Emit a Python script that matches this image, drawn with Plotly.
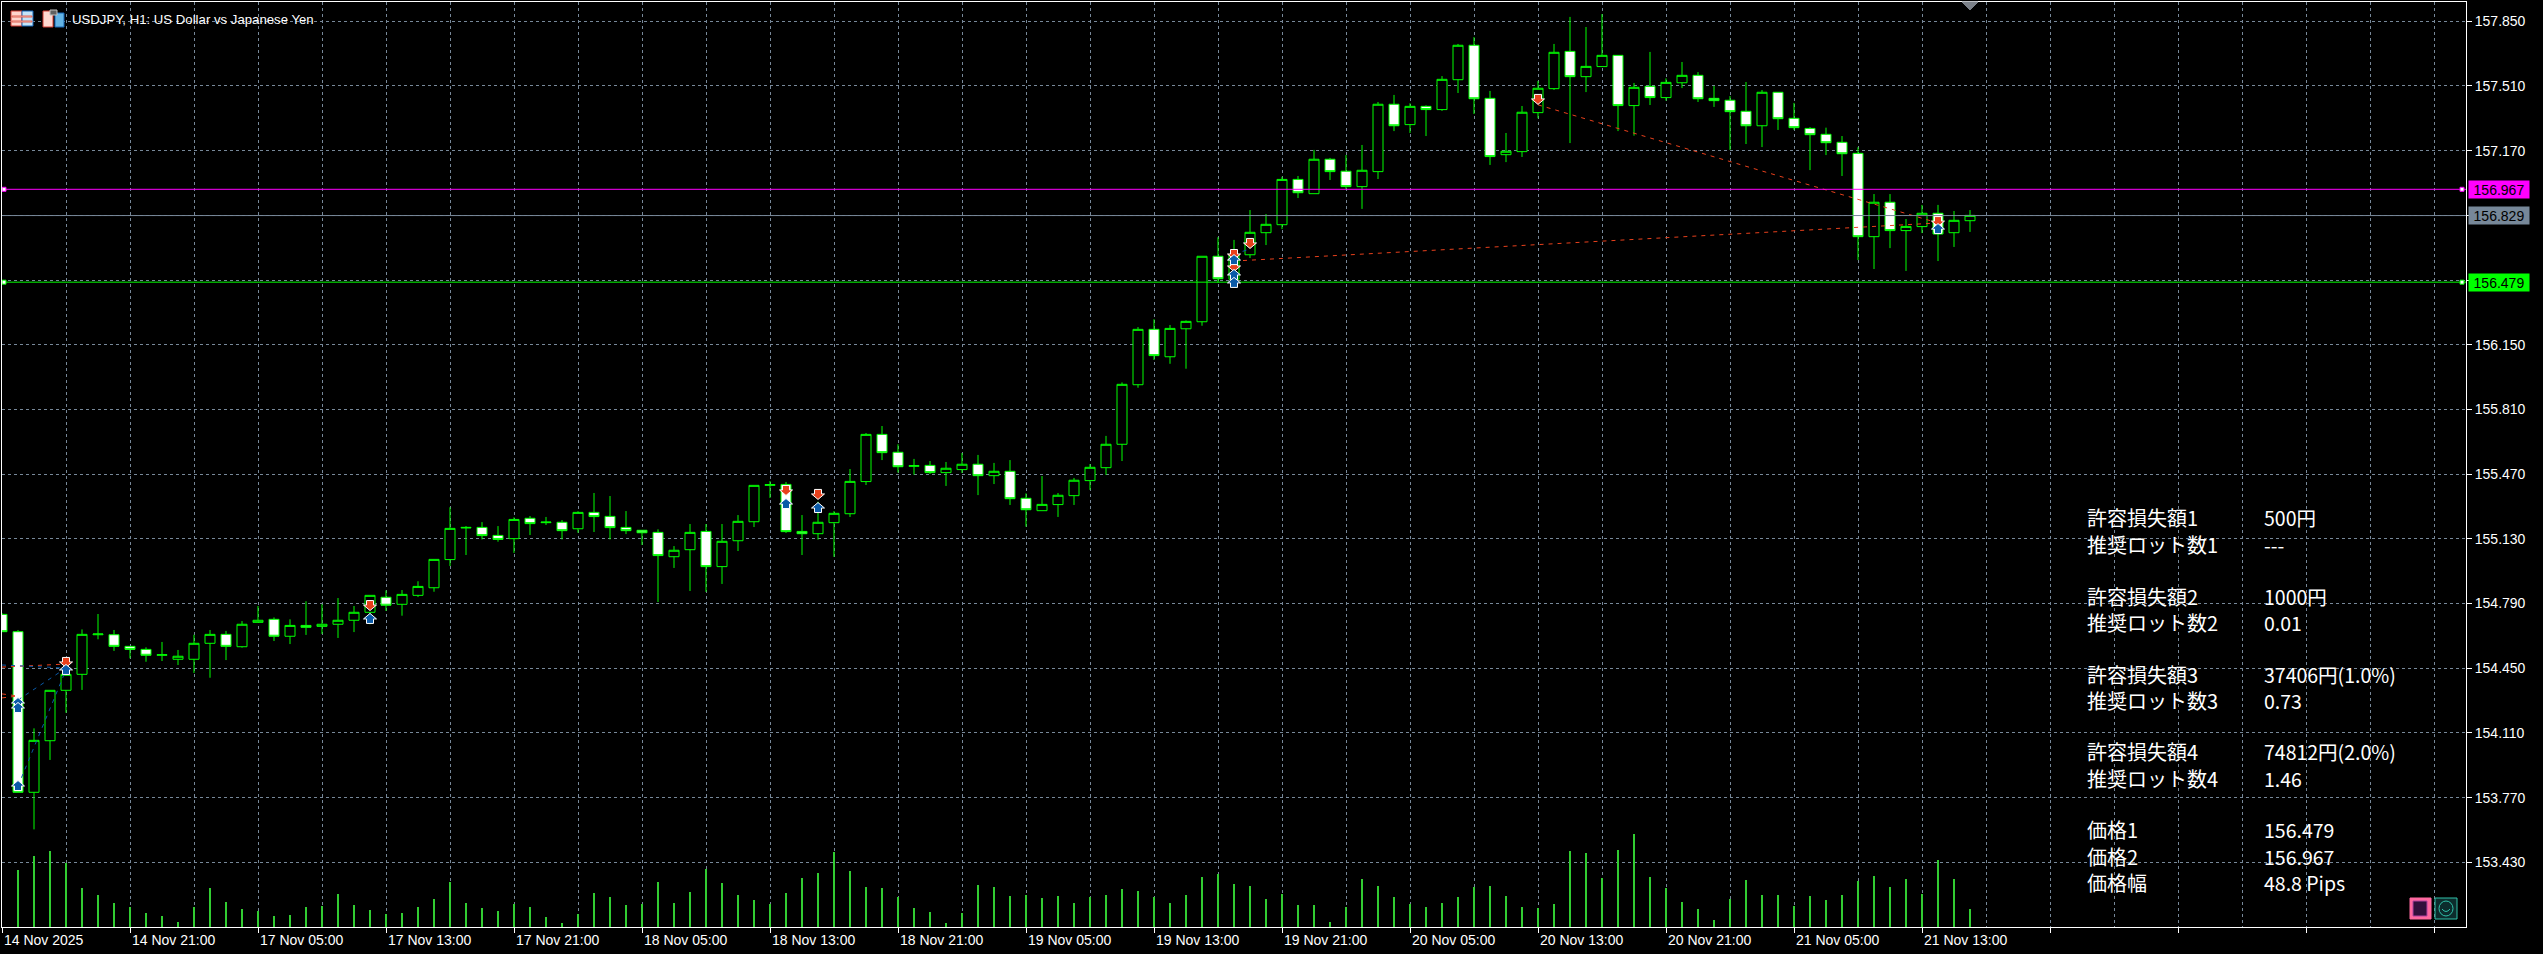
import plotly.graph_objects as go

# USDJPY H1 candles, one row per bar (bar index = hours of trading since 14 Nov 13:00)
open_ = [154.733,154.642,153.798,154.069,154.334,154.418,154.626,154.626,154.565,154.549,154.518,154.497,154.497,154.581,154.628,154.563,154.691,154.707,154.618,154.675,
         154.670,154.681,154.702,154.744,154.823,154.786,154.833,154.873,155.021,155.187,155.190,155.148,155.131,155.238,155.215,155.217,155.183,155.269,155.248,155.190,
         155.175,155.164,155.036,155.073,155.169,154.984,155.120,155.220,155.411,155.416,155.169,155.157,155.215,155.262,155.431,155.679,155.585,155.511,155.516,155.478,
         155.494,155.522,155.462,155.485,155.343,155.278,155.310,155.357,155.436,155.504,155.627,155.940,156.231,156.087,156.234,156.271,156.615,156.494,156.623,156.739,
         156.781,157.019,156.944,157.125,157.062,156.981,157.060,157.414,157.307,157.403,157.386,157.543,157.724,157.445,157.149,157.165,157.370,157.496,157.692,157.559,
         157.612,157.671,157.407,157.508,157.449,157.527,157.566,157.445,157.435,157.377,157.301,157.477,157.340,157.287,157.256,157.214,157.156,156.718,156.899,156.750,
         156.771,156.841,156.739,156.802]
high = [154.740,154.651,154.134,154.334,154.458,154.654,154.735,154.651,154.565,154.560,154.588,154.546,154.626,154.651,154.646,154.698,154.777,154.717,154.707,154.802,
        154.786,154.819,154.777,154.833,154.859,154.861,154.907,155.022,155.296,155.197,155.218,155.197,155.243,155.250,155.245,155.229,155.275,155.371,155.355,155.276,
        155.175,155.180,155.092,155.208,155.208,155.208,155.255,155.411,155.434,155.429,155.255,155.325,155.276,155.497,155.686,155.723,155.627,155.550,155.539,155.534,
        155.581,155.571,155.529,155.544,155.369,155.460,155.371,155.450,155.523,155.671,155.952,156.243,156.284,156.254,156.278,156.615,156.715,156.701,156.858,156.837,
        157.033,157.037,157.174,157.132,157.147,157.200,157.426,157.463,157.419,157.408,157.562,157.731,157.767,157.484,157.263,157.405,157.536,157.731,157.873,157.820,
        157.888,157.671,157.526,157.689,157.550,157.636,157.583,157.510,157.457,157.531,157.489,157.477,157.421,157.294,157.291,157.247,157.188,156.942,156.942,156.811,
        156.885,156.885,156.853,156.858]
low = [154.642,153.798,153.603,153.968,154.216,154.336,154.602,154.541,154.502,154.484,154.488,154.467,154.425,154.400,154.493,154.558,154.691,154.593,154.577,154.625,
       154.630,154.609,154.640,154.681,154.751,154.726,154.824,154.852,154.987,155.045,155.127,155.115,155.056,155.150,155.203,155.127,155.162,155.166,155.127,155.155,
       155.098,154.798,154.977,154.856,154.851,154.893,155.066,155.192,155.345,155.161,155.045,155.126,155.035,155.245,155.413,155.544,155.478,155.467,155.471,155.408,
       155.476,155.360,155.418,155.308,155.194,155.278,155.245,155.308,155.387,155.466,155.539,155.924,156.070,156.050,156.024,156.250,156.476,156.469,156.606,156.674,
       156.758,156.921,156.944,157.016,156.967,156.864,157.021,157.273,157.263,157.247,157.379,157.473,157.363,157.095,157.110,157.137,157.340,157.489,157.210,157.478,
       157.612,157.273,157.249,157.410,157.433,157.499,157.426,157.400,157.174,157.205,157.189,157.279,157.279,157.068,157.147,157.037,156.595,156.548,156.658,156.538,
       156.737,156.590,156.664,156.743]
close = [154.642,153.798,154.071,154.334,154.418,154.628,154.630,154.565,154.549,154.518,154.521,154.513,154.581,154.628,154.565,154.681,154.702,154.618,154.675,154.665,
         154.681,154.702,154.744,154.833,154.781,154.838,154.880,155.022,155.185,155.190,155.147,155.127,155.232,155.210,155.218,155.173,155.269,155.247,155.189,155.173,
         155.162,155.042,155.070,155.164,154.984,155.117,155.222,155.411,155.415,155.168,155.157,155.217,155.264,155.432,155.679,155.583,155.509,155.515,155.478,155.501,
         155.522,155.462,155.485,155.341,155.283,155.311,155.359,155.438,155.506,155.627,155.942,156.231,156.093,156.236,156.273,156.615,156.497,156.622,156.741,156.783,
         157.019,156.949,157.125,157.060,156.981,157.067,157.414,157.301,157.403,157.386,157.545,157.724,157.443,157.139,157.167,157.372,157.498,157.687,157.559,157.613,
         157.671,157.407,157.503,157.449,157.529,157.566,157.443,157.433,157.375,157.301,157.477,157.338,157.291,157.254,157.212,157.154,156.718,156.899,156.750,156.772,
         156.841,156.732,156.804,156.830]
volume = [0,57,71,76,64,39,32,24,20,14,11,5,20,39,25,18,16,11,12,20,21,33,22,17,13,14,20,
          28,45,24,19,16,23,20,10,4,13,34,30,22,23,45,24,35,58,44,32,27,23,34,49,54,75,56,40,39,30,19,15,4,14,42,40,31,32,29,31,24,30,32,
          38,36,30,24,32,50,53,43,41,28,33,22,22,5,20,48,41,30,23,20,24,30,40,41,31,20,19,23,76,74,49,77,93,50,39,25,18,7,28,47,32,32,21,31,27,32,46,51,40,48,33,67,48,18]
bars = list(range(len(open_)))

price_ticks = [157.85,157.51,157.17,156.83,156.49,156.15,155.81,155.47,155.13,154.79,154.45,154.11,153.77,153.43]
price_tick_labels = ["157.850","157.510","157.170","","","156.150","155.810","155.470","155.130","154.790","154.450","154.110","153.770","153.430"]
time_labels = ["14 Nov 2025","14 Nov 21:00","17 Nov 05:00","17 Nov 13:00","17 Nov 21:00","18 Nov 05:00","18 Nov 13:00","18 Nov 21:00",
               "19 Nov 05:00","19 Nov 13:00","19 Nov 21:00","20 Nov 05:00","20 Nov 13:00","20 Nov 21:00","21 Nov 05:00","21 Nov 13:00"]

# horizontal price lines
level_prices = [156.967, 156.829, 156.479]
level_colors = ["#ff00ff", "#778899", "#00ff00"]

# trade arrows (bar, price)
sell_bars = [4,23,49,51,77,77,78,96,121]
sell_prices = [154.483,154.782,155.387,155.366,156.627,156.564,156.685,157.442,156.800]
buy_bars = [1,1,1,4,23,49,51,77,77,77,121]
buy_prices = [154.267,154.241,153.831,154.441,154.709,155.313,155.292,156.595,156.517,156.475,156.758]

# dotted lines joining trades: (bar0, price0, bar1, price1)
red_links = [(77,156.590,121,156.790),(96,157.411,121,156.790),(0,154.456,4,154.472),(0,154.294,1,154.304),(0,154.315,1,154.304)]
blue_links = [(1,153.831,4,154.441),(1,154.283,4,154.451),(0,154.467,4,154.451),(77,156.627,78,156.653)]

panel_rows = [("許容損失額1","500円",517),("推奨ロット数1","---",544),
              ("許容損失額2","1000円",596),("推奨ロット数2","0.01",622),
              ("許容損失額3","37406円(1.0%)",674),("推奨ロット数3","0.73",700),
              ("許容損失額4","74812円(2.0%)",751),("推奨ロット数4","1.46",778),
              ("価格1","156.479",829),("価格2","156.967",856),("価格幅","48.8 Pips",882)]

LATIN = "Liberation Sans"
CJK = "Noto Sans CJK JP"
GRID = "#778899"
W, H = 2543, 954
L, R, T, B = 2, 2466, 2, 927


def px(x):
    return (x - L) / (R - L)


def py(y):
    return 1 - (y - T) / (B - T)


def box(x0, y0, x1, y1, fill, line):
    return dict(type="rect", xref="paper", yref="paper", x0=px(x0), x1=px(x1), y0=py(y0), y1=py(y1),
                fillcolor=fill, line=dict(color=line, width=1), layer="above")


def arrow(bar, price, color, up):
    s = 1 if up else -1
    path = f"M-3.5,{-4.5*s} L3.5,{-4.5*s} L3.5,0 L6.5,0 L0,{5.5*s} L-6.5,0 L-3.5,0 Z"
    return dict(type="path", path=path, xref="x", yref="y", xsizemode="pixel", ysizemode="pixel",
                xanchor=bar, yanchor=price, fillcolor=color, line=dict(color="white", width=1), layer="above")


fig = go.Figure()

fig.add_trace(go.Bar(x=bars, y=volume, width=0.125, marker=dict(color="#32cd32", line_width=0), yaxis="y2", hoverinfo="skip"))

fig.add_trace(go.Candlestick(x=bars, open=open_, high=high, low=low, close=close, whiskerwidth=0, hoverinfo="skip",
                             increasing=dict(fillcolor="#000000", line=dict(color="#00ff00", width=1)),
                             decreasing=dict(fillcolor="#ffffff", line=dict(color="#00ff00", width=1))))

for links, color in ((red_links, "#e8401c"), (blue_links, "#0a5aa8")):
    for b0, p0, b1, p1 in links:
        fig.add_trace(go.Scatter(x=[b0, b1], y=[p0, p1], mode="lines", hoverinfo="skip",
                                 line=dict(color=color, width=1, dash="4px,5px")))

for price, color in zip(level_prices, level_colors):
    fig.add_trace(go.Scatter(x=[0, 154], y=[price, price], mode="lines", hoverinfo="skip", line=dict(color=color, width=1)))
    if color != "#778899":
        fig.add_trace(go.Scatter(x=[0.125, 153.75], y=[price, price], mode="markers", hoverinfo="skip",
                                 marker=dict(symbol="square", size=4, color="white", line=dict(color=color, width=1))))

shapes = [arrow(b, p, "#e8401c", False) for b, p in zip(sell_bars, sell_prices)]
shapes += [arrow(b, p, "#0a5aa8", True) for b, p in zip(buy_bars, buy_prices)]

# toolbar icons top left, shift marker, buttons bottom right
shapes += [box(11, 11, 22, 26, "#ffd4cc", "#d03a30"), box(22, 11, 33, 26, "#c4e4f8", "#1464b4"),
           box(12, 16, 32, 17, "#ffffff", "#e06050"), box(12, 21, 32, 22, "#ffffff", "#e06050"),
           box(43, 11, 53, 27, "#ffd8d0", "#d03a30"), box(55, 13, 64, 27, "#64b4e4", "#1464b4"),
           box(50, 10, 57, 15, "#606060", "#c0c0c0"),
           box(2410, 898, 2431, 919, "#ff69a0", "#ff69a0"), box(2413, 901, 2427, 916, "#32103c", "#b040a0"),
           box(2435, 898, 2457, 919, "#0c2c2c", "#30c0a8")]
shapes.append(dict(type="circle", xref="paper", yref="paper", x0=px(2439), x1=px(2453), y0=py(901), y1=py(916),
                   line=dict(color="#30c0a8", width=1), layer="above"))
shapes.append(dict(type="path", xref="paper", yref="paper", layer="above", line=dict(color="#30c0a8", width=1),
                   path=f"M{px(2442)},{py(909)} Q{px(2446)},{py(914)} {px(2450)},{py(909)}"))
shapes.append(dict(type="path", xref="paper", yref="paper", layer="above", fillcolor="#7a8088", line=dict(color="#7a8088", width=1),
                   path=f"M{px(1962)},{py(2)} L{px(1978)},{py(2)} L{px(1970)},{py(10)} Z"))

annotations = [dict(text="USDJPY, H1: US Dollar vs Japanese Yen", xref="paper", yref="paper", x=px(70), y=py(19),
                    xanchor="left", yanchor="middle", showarrow=False, font=dict(family=LATIN, size=13.2, color="white"))]

for n, label in enumerate(time_labels):
    annotations.append(dict(text=label, xref="x", yref="paper", x=n * 8, y=py(940), xanchor="left", yanchor="middle",
                            showarrow=False, font=dict(family=LATIN, size=14, color="white")))

for price, color in zip(level_prices, level_colors):
    annotations.append(dict(text=f"{price:.3f}", xref="paper", yref="y", x=px(2468), y=price, xanchor="left", yanchor="middle",
                            showarrow=False, bgcolor=color, width=60, height=17, borderpad=0,
                            font=dict(family=LATIN, size=14, color="black")))

for label, value, row_y in panel_rows:
    annotations.append(dict(text=label, xref="paper", yref="paper", x=px(2085), y=py(row_y), xanchor="left", yanchor="middle",
                            showarrow=False, font=dict(family=CJK, size=20, color="white")))
    annotations.append(dict(text=value, xref="paper", yref="paper", x=px(2262), y=py(row_y), xanchor="left", yanchor="middle",
                            showarrow=False, font=dict(family=CJK, size=19.5, color="white")))

fig.update_layout(
    width=W, height=H, autosize=False,
    margin=dict(l=L, r=W - R, t=T, b=H - B, pad=0),
    paper_bgcolor="black", plot_bgcolor="black",
    showlegend=False, boxgap=0.375, boxgroupgap=0, barmode="overlay",
    xaxis=dict(range=[0, 154], rangeslider_visible=False, tick0=0, dtick=8, ticks="outside", ticklen=5, tickcolor="white",
               showticklabels=False, showline=True, mirror=True, linecolor="white", linewidth=1, zeroline=False,
               showgrid=True, gridcolor=GRID, griddash="3px,3px", gridwidth=1,
               minor=dict(tick0=0, dtick=4, showgrid=True, gridcolor=GRID, griddash="3px,3px", gridwidth=1, ticks="")),
    yaxis=dict(range=[153.09, 157.9514], side="right", tickvals=price_ticks, ticktext=price_tick_labels, ticks="outside", ticklen=5,
               tickcolor="white", tickfont=dict(family=LATIN, size=14, color="white"), showline=True, mirror=True, linecolor="white",
               linewidth=1, zeroline=False, showgrid=True, gridcolor=GRID, griddash="3px,3px", gridwidth=1),
    yaxis2=dict(range=[0, 925], overlaying="y", side="left", visible=False, showgrid=False),
    shapes=shapes, annotations=annotations,
)

fig.write_html("out.html", config={"displayModeBar": False},
               post_script="document.body.style.margin='0';document.body.style.overflow='hidden';")
